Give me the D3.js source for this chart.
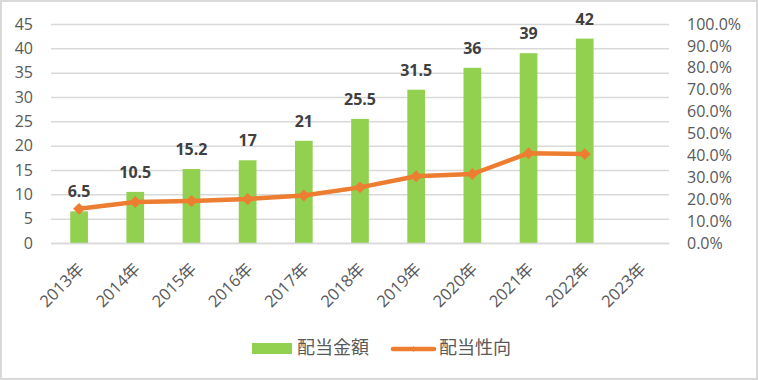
<!DOCTYPE html>
<html><head><meta charset="utf-8">
<script src="https://cdn.jsdelivr.net/npm/d3@7"></script>
<style>
html,body{margin:0;padding:0;background:#fff;}
svg{display:block;}
</style></head>
<body>
<svg id="chart" width="758" height="380"></svg>
<script>
const categories = ["2013年","2014年","2015年","2016年","2017年","2018年","2019年","2020年","2021年","2022年","2023年"];
const dividendAmount = [6.5, 10.5, 15.2, 17, 21, 25.5, 31.5, 36, 39, 42];
const dividendLabels = ["6.5","10.5","15.2","17","21","25.5","31.5","36","39","42"];
const payoutRatio = [15.6, 18.7, 19.2, 20.1, 21.7, 25.4, 30.5, 31.5, 41.0, 40.6];
const leftTicks = [0,5,10,15,20,25,30,35,40,45];
const rightTicks = [0,10,20,30,40,50,60,70,80,90,100];
const seriesNames = ["配当金額","配当性向"];

const W = 758, H = 380;
const m = {left:51, right:89, top:24, bottom:137};
const svg = d3.select("#chart");
const font = "'Open Sans','Noto Sans CJK JP',sans-serif";

svg.append("rect").attr("x",1).attr("y",1).attr("width",W-2).attr("height",H-2)
  .attr("fill","#fff").attr("stroke","#d9d9d9").attr("stroke-width",2);

const x = d3.scaleBand().domain(categories).range([m.left, W-m.right]).paddingInner(0.685).paddingOuter(0.3425);
const xc = d3.scaleBand().domain(categories).range([m.left, W-m.right]);
const yL = d3.scaleLinear().domain([0,45]).range([H-m.bottom, m.top]);
const yR = d3.scaleLinear().domain([0,100]).range([H-m.bottom, m.top]);

// gridlines
const grid = d3.axisLeft(yL).tickValues(leftTicks).tickSize(-(W-m.left-m.right)).tickFormat("");
svg.append("g").attr("transform",`translate(${m.left},0)`).call(grid)
  .call(g=>g.select(".domain").remove())
  .call(g=>g.selectAll("line").attr("stroke","#d9d9d9").attr("stroke-width",1.5));

// left axis labels
const la = d3.axisLeft(yL).tickValues(leftTicks).tickSize(0).tickPadding(18);
svg.append("g").attr("transform",`translate(${m.left},0)`).call(la)
  .call(g=>g.select(".domain").remove())
  .call(g=>g.selectAll("text").attr("fill","#595959").style("font-family",font).style("font-size","16px"));

// right axis labels
const ra = d3.axisRight(yR).tickValues(rightTicks).tickSize(0).tickPadding(18).tickFormat(d=>d.toFixed(1)+"%");
svg.append("g").attr("transform",`translate(${W-m.right},0)`).call(ra)
  .call(g=>g.select(".domain").remove())
  .call(g=>g.selectAll("text").attr("fill","#595959").style("font-family",font).style("font-size","16px"));

// bars
svg.append("g").selectAll("rect").data(dividendAmount).join("rect")
  .attr("x",(d,i)=>x(categories[i])).attr("width",x.bandwidth())
  .attr("y",d=>yL(d)).attr("height",d=>yL(0)-yL(d)).attr("fill","#92d050");

// bottom axis
const ba = d3.axisBottom(xc).tickSize(0).tickPadding(0);
svg.append("g").attr("transform",`translate(0,${H-m.bottom})`).call(ba)
  .call(g=>g.select(".domain").attr("stroke","#d9d9d9").attr("stroke-width",1.5))
  .call(g=>g.selectAll("text").attr("fill","#595959").style("font-family",font).style("font-size","16.5px")
    .attr("text-anchor","end").attr("dy",0).attr("y",0)
    .attr("transform","translate(6,27) rotate(-45)"));

// line
const cx = i => xc(categories[i]) + xc.bandwidth()/2;
const line = d3.line().x((d,i)=>cx(i)).y(d=>yR(d));
svg.append("path").datum(payoutRatio).attr("d",line).attr("fill","none")
  .attr("stroke","#ed7d31").attr("stroke-width",4.5).attr("stroke-linejoin","round").attr("stroke-linecap","round");
const diamond = d3.symbol().type(d3.symbolDiamond2).size(90);
svg.append("g").selectAll("path").data(payoutRatio).join("path")
  .attr("d",diamond).attr("transform",(d,i)=>`translate(${cx(i)},${yR(d)})`).attr("fill","#ed7d31");

// data labels
svg.append("g").selectAll("text").data(dividendAmount).join("text")
  .attr("x",(d,i)=>cx(i)).attr("y",d=>yL(d)-14).attr("text-anchor","middle")
  .attr("fill","#404040").style("font-family",font).style("font-size","16px").style("font-weight","bold")
  .text((d,i)=>dividendLabels[i]);

// legend
const lg = svg.append("g");
lg.append("rect").attr("x",252).attr("y",343).attr("width",40).attr("height",11).attr("fill","#92d050");
lg.append("text").attr("x",297).attr("y",348).attr("dy","0.35em").text(seriesNames[0])
  .attr("fill","#595959").style("font-family",font).style("font-size","18px");
lg.append("line").attr("x1",393).attr("x2",434).attr("y1",349).attr("y2",349)
  .attr("stroke","#ed7d31").attr("stroke-width",4.5).attr("stroke-linecap","round");
lg.append("path").attr("d",d3.symbol().type(d3.symbolDiamond2).size(20)).attr("transform","translate(413.5,349)").attr("fill","#ed7d31");
lg.append("text").attr("x",439).attr("y",348).attr("dy","0.35em").text(seriesNames[1])
  .attr("fill","#595959").style("font-family",font).style("font-size","18px");
</script>
</body></html>
